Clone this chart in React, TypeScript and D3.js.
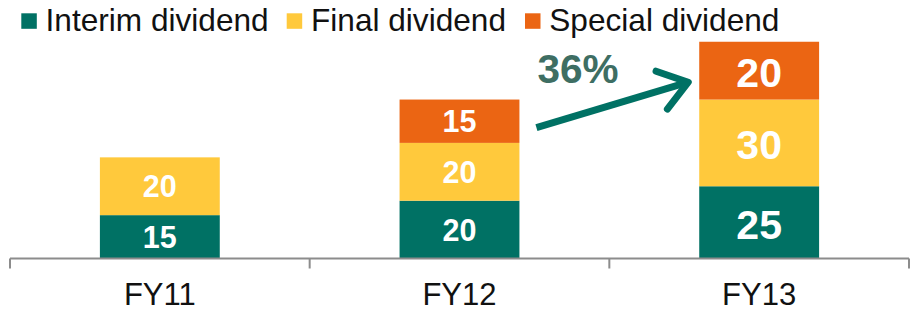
import React, { useEffect, useRef } from 'react';
import * as d3 from 'd3';

const categories = ['FY11', 'FY12', 'FY13'];
const interim = [15, 20, 25];
const finalDiv = [20, 20, 30];
const special = [0, 15, 20];
const seriesNames = ['Interim dividend', 'Final dividend', 'Special dividend'];
const colors = ['#007164', '#FFC93C', '#EB6513'];
const growthLabel = '36%';

const W = 912;
const H = 311;

const App = () => {
  const svgRef = useRef<SVGSVGElement | null>(null);

  useEffect(() => {
    const svg = d3.select(svgRef.current).html('');
    const font = 'Liberation Sans, Arial, sans-serif';

    // Scales
    const x = d3.scaleBand<string>()
      .domain(categories)
      .range([10, 909])
      .paddingInner(0.6)
      .paddingOuter(0.3);

    const y = d3.scaleLinear().domain([0, 80]).range([258.5, 27.3]);

    const rows = categories.map((c, i) => ({
      cat: c,
      interim: interim[i],
      final: finalDiv[i],
      special: special[i],
    }));
    const keys = ['interim', 'final', 'special'];
    const stacked = d3.stack<any>().keys(keys)(rows);

    // Bars
    stacked.forEach((layer, li) => {
      const g = svg.append('g');
      layer.forEach((d: any) => {
        const v = d[1] - d[0];
        if (v <= 0) return;
        const cat = d.data.cat;
        g.append('rect')
          .attr('x', x(cat)!)
          .attr('y', y(d[1]))
          .attr('width', x.bandwidth())
          .attr('height', y(d[0]) - y(d[1]))
          .attr('fill', colors[li]);
        const big = cat === 'FY13';
        const fs = big ? 41 : 30.5;
        g.append('text')
          .attr('x', x(cat)! + x.bandwidth() / 2)
          .attr('y', (y(d[0]) + y(d[1])) / 2 + fs * 0.36 + (big ? 1.5 : 0))
          .attr('text-anchor', 'middle')
          .style('font-family', font)
          .style('font-weight', 'bold')
          .style('font-size', `${fs}px`)
          .style('fill', '#fff')
          .text(v);
      });
    });

    // Axis
    const axisY = y(0);
    svg.append('line')
      .attr('x1', x.range()[0]).attr('x2', x.range()[1])
      .attr('y1', axisY).attr('y2', axisY)
      .attr('stroke', '#8c8c8c').attr('stroke-width', 2);
    const tickXs = [x.range()[0], ...categories.map(c => x(c)! + x.bandwidth() / 2 + x.step() / 2)];
    tickXs.forEach(tx => {
      svg.append('line')
        .attr('x1', tx).attr('x2', tx)
        .attr('y1', axisY).attr('y2', axisY + 10)
        .attr('stroke', '#8c8c8c').attr('stroke-width', 2);
    });
    categories.forEach(c => {
      svg.append('text')
        .attr('x', x(c)! + x.bandwidth() / 2)
        .attr('y', 305)
        .attr('text-anchor', 'middle')
        .style('font-family', font)
        .style('font-size', '31px')
        .style('fill', '#111')
        .text(c);
    });

    // Legend
    const legendX = [21.3, 286.7, 525];
    seriesNames.forEach((n, i) => {
      svg.append('rect')
        .attr('x', legendX[i]).attr('y', 13.3)
        .attr('width', 15.5).attr('height', 15.5)
        .attr('fill', colors[i]);
      svg.append('text')
        .attr('x', legendX[i] + 24.3)
        .attr('y', 30.7)
        .style('font-family', font)
        .style('font-size', '31.6px')
        .style('fill', '#111')
        .text(n);
    });

    // Growth arrow FY12 -> FY13
    const x0 = x('FY12')! + x.bandwidth() + 17;
    const y0 = y(45.3);
    const x1 = x('FY13')! - 11;
    const y1 = y(61);
    const ang = Math.atan2(y1 - y0, x1 - x0);
    const headLen = 34;
    const spread = 0.62;
    const arrow = svg.append('g')
      .attr('stroke', '#007164')
      .attr('stroke-width', 7)
      .attr('stroke-linecap', 'round')
      .attr('fill', 'none');
    arrow.append('line')
      .attr('x1', x0).attr('y1', y0)
      .attr('x2', x1).attr('y2', y1)
      .attr('stroke-linecap', 'butt');
    arrow.append('path')
      .attr('stroke-linejoin', 'round')
      .attr('d', d3.line()([
        [x1 - headLen * Math.cos(ang - spread), y1 - headLen * Math.sin(ang - spread)],
        [x1, y1],
        [x1 - headLen * Math.cos(ang + spread), y1 - headLen * Math.sin(ang + spread)],
      ]));

    svg.append('text')
      .attr('x', x0 + 1)
      .attr('y', 83.3)
      .style('font-family', font)
      .style('font-weight', 'bold')
      .style('font-size', '40.5px')
      .style('fill', '#3E6E63')
      .text(growthLabel);
  }, []);

  return (
    <svg
      ref={svgRef}
      width={W}
      height={H}
      style={{ position: 'absolute', left: 0, top: 0, background: '#fff' }}
    />
  );
};

export default App;
